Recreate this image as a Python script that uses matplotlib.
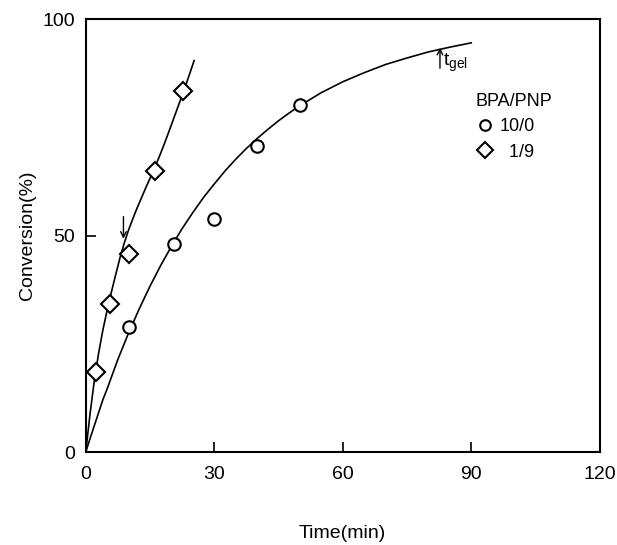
import matplotlib
matplotlib.use("Agg")
import matplotlib.pyplot as plt

plt.rcParams['font.family'] = ['Liberation Sans', 'DejaVu Sans']

# measured points
t_bpa = [10, 20.5, 30, 40, 50]
conv_bpa = [28.8, 48.0, 53.8, 70.6, 80.2]
t_pnp = [2.5, 5.6, 10, 16.1, 22.6]
conv_pnp = [18.5, 34.1, 45.8, 65.0, 83.4]

# hand-drawn guide curves
curve_t_bpa = [0, 1, 2.5, 4, 5, 7.5, 10, 12.5, 15, 17.5, 20, 22.5, 25, 27.5, 30, 32.5, 35, 37.5, 40,
               42.5, 45, 47.5, 50, 55, 60, 65, 70, 75, 80, 85, 90]
curve_c_bpa = [0, 3.1, 7.6, 12.1, 14.6, 21.4, 27.5, 33.1, 38.3, 43.1, 47.5, 51.6, 55.3, 58.8, 61.9,
               64.9, 67.6, 70.1, 72.4, 74.5, 76.5, 78.3, 80.0, 83.0, 85.5, 87.6, 89.5, 91.0, 92.4, 93.5, 94.5]
curve_t_pnp = [0, 1, 2, 3, 4, 5, 6, 7, 8, 9, 10, 11, 12, 13, 14, 15, 16, 17, 18, 19, 20, 21, 22, 23, 24, 25.3]
curve_c_pnp = [0, 8.8, 16.5, 22.8, 28.2, 32.8, 37.0, 41.0, 44.9, 48.3, 51.3, 53.9, 56.4, 58.7, 61.0,
               63.2, 65.4, 67.8, 70.3, 72.9, 75.6, 78.3, 81.0, 83.7, 86.6, 90.4]

x_ticks = [0, 30, 60, 90, 120]
y_ticks = [0, 50, 100]

fig = plt.figure(figsize=(6.17, 5.45), dpi=100)
ax = fig.add_axes([0.139, 0.1706, 0.833, 0.7945])

ax.plot(curve_t_bpa, curve_c_bpa, color='black', lw=1.2)
ax.plot(curve_t_pnp, curve_c_pnp, color='black', lw=1.2)
ax.plot(t_bpa, conv_bpa, 'o', ms=9, mfc='white', mec='black', mew=1.5, label='10/0')
ax.plot(t_pnp, conv_pnp, 'D', ms=9, mfc='white', mec='black', mew=1.5, label='  1/9')

# gel point arrows
ax.annotate('', xy=(8.8, 48.6), xytext=(8.8, 55),
            arrowprops=dict(arrowstyle='->', color='black', lw=1.0))
ax.annotate('', xy=(82.7, 94), xytext=(82.7, 88),
            arrowprops=dict(arrowstyle='->', color='black', lw=1.0))
ax.text(83.4, 89.8, r'$\mathregular{t_{gel}}$', fontsize=14, va='center', ha='left')

ax.set_xlim(0, 120)
ax.set_ylim(0, 100)
ax.set_xticks(x_ticks)
ax.set_yticks(y_ticks)
ax.tick_params(direction='in', length=7, width=1.2, labelsize=14)
ax.tick_params(axis='x', pad=10)
ax.tick_params(axis='y', pad=8)
for s in ax.spines.values():
    s.set_linewidth(1.5)

ax.set_xlabel('Time(min)', fontsize=14, labelpad=30)
ax.set_ylabel('Conversion(%)', fontsize=14, labelpad=4)

leg = ax.legend(title='BPA/PNP', frameon=False, loc='upper left',
                bbox_to_anchor=(0.745, 0.845), fontsize=13, title_fontsize=13,
                handletextpad=0.3, labelspacing=0.45, handlelength=1.0,
                markerscale=0.85, borderaxespad=0)
leg._legend_box.align = 'left'

fig.savefig('out.png', dpi=100)
